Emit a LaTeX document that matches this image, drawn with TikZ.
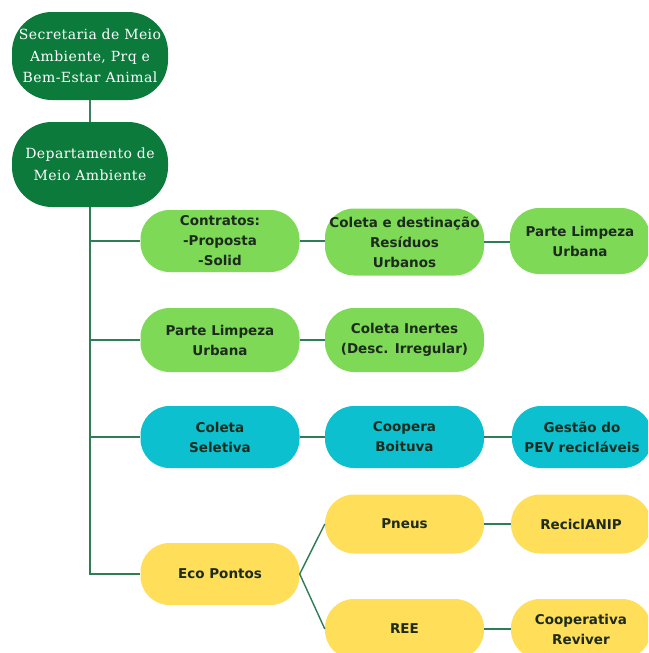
\documentclass[tikz,border=0pt]{standalone}
\usepackage{fontspec}
\setmainfont{DejaVu Sans}
\newfontfamily\topfont[LetterSpace=3]{DejaVu Serif}
\begin{document}
\begin{tikzpicture}[x=1pt,y=-1pt,
  pill/.style={rounded corners=29pt, minimum width=159pt, minimum height=62pt, inner sep=0pt, align=center, font=\fontsize{13.5}{20}\selectfont\bfseries, text=textdark},
  topbox/.style={rounded corners=40pt, fill=darkgreen, text=white, minimum width=156pt, inner sep=0pt, align=center, font=\topfont\fontsize{14}{21.5}\selectfont},
  lg/.style={pill, fill=lightgreen},
  tl/.style={pill, fill=tealc},
  yl/.style={pill, fill=yellowc},
  conn/.style={draw=linec, line width=1.4pt}]
\definecolor{darkgreen}{HTML}{0B7A3A}
\definecolor{lightgreen}{HTML}{7ED957}
\definecolor{tealc}{HTML}{0CC0CF}
\definecolor{yellowc}{HTML}{FFDE59}
\definecolor{linec}{HTML}{2E7D55}
\definecolor{textdark}{HTML}{1C2B1E}
\useasboundingbox (0,0) rectangle (648,653);
\fill[white] (0,0) rectangle (648,653);
\begin{scope}
\clip (0,0) rectangle (648,653);
\node[topbox, minimum height=88pt] (sec) at (90,56) {Secretaria de Meio\\Ambiente, Prq e\\Bem-Estar Animal};
\node[topbox, minimum height=85pt] (dep) at (90,164.5) {Departamento de\\Meio Ambiente};

\node[lg] (c1) at (220,241) {Contratos:\\-Proposta\\-Solid};
\node[lg, minimum height=67pt] (c2) at (404.5,242) {Coleta e destinação\\Resíduos\\Urbanos};
\node[lg, minimum width=140pt, minimum height=66pt] (c3) at (580,241) {Parte Limpeza\\Urbana};

\node[lg, minimum height=64pt] (p1) at (220,340) {Parte Limpeza\\Urbana};
\node[lg, minimum height=64pt] (p2) at (404.5,340) {Coleta Inertes\\(Desc. Irregular)};

\node[tl] (s1) at (220,437) {Coleta\\Seletiva};
\node[tl] (s2) at (404.5,437) {Coopera\\Boituva};
\node[tl, minimum width=140pt] (s3) at (582,437) {Gestão do\\PEV recicláveis};

\node[yl] (e1) at (220,574) {Eco Pontos};
\node[yl, minimum height=59pt] (e2) at (404.5,524) {Pneus};
\node[yl, minimum width=140pt, minimum height=59pt] (e3) at (581,524) {ReciclANIP};
\node[yl, minimum height=60pt] (e4) at (404.5,629) {REE};
\node[yl, minimum width=140pt, minimum height=60pt] (e5) at (581,629) {Cooperativa\\Reviver};
\end{scope}

\draw[conn, draw=linec!80!gray] (sec) -- (dep);
\draw[conn] (dep.south) -- (dep.south |- e1.west) -- (e1.west);
\draw[conn] (dep.south |- c1.west) -- (c1.west);
\draw[conn] (dep.south |- p1.west) -- (p1.west);
\draw[conn] (dep.south |- s1.west) -- (s1.west);
\draw[conn] (c1.east) -- (c2.west |- c1.east);
\draw[conn] (c2.east) -- (c3.west |- c2.east);
\draw[conn] (p1.east) -- (p2.west |- p1.east);
\draw[conn] (s1.east) -- (s2.west |- s1.east);
\draw[conn] (s2.east) -- (s3.west |- s2.east);
\draw[conn] (e1.east) -- (e2.west);
\draw[conn] (e1.east) -- (e4.west);
\draw[conn] (e2.east) -- (e3.west);
\draw[conn] (e4.east) -- (e5.west);
\end{tikzpicture}
\end{document}
